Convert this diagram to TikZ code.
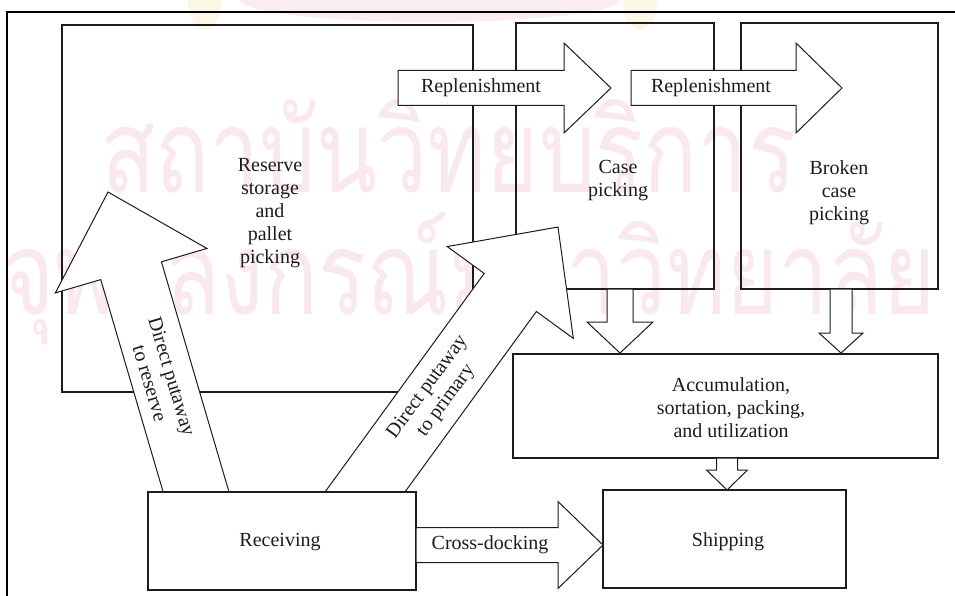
\documentclass[tikz,border=0pt]{standalone}
\usepackage{fontspec}
\setmainfont{Liberation Serif}
\newfontfamily\thaifont[Script=Thai,FakeStretch=0.77]{Loma}
\usetikzlibrary{calc}

\definecolor{ink}{RGB}{28,28,28}
\definecolor{wmpink}{RGB}{249,232,239}
\definecolor{wmband}{RGB}{251,236,240}
\definecolor{wmgold}{RGB}{251,246,230}

\tikzset{
  box/.style={draw=ink, line width=1.2pt, inner sep=0pt, outer sep=0pt},
  whitebox/.style={box, fill=white},
  flowarrow/.style={draw=ink, line width=1pt, fill=white, line join=miter},
  lbl/.style={font=\fontsize{20}{23}\selectfont, align=center, inner sep=0pt, text=ink},
  frameline/.style={draw=black, line width=2.2pt},
  watermark/.style={font=\thaifont\fontsize{116}{116}\selectfont, text=wmpink, inner sep=0pt}
}

% Block arrow from coordinate #1 to tip #2:
% #3 half body width, #4 half head width, #5 head length (all in pt)
\newcommand\blockarrow[5]{%
  \pgfpointdiff{\pgfpointanchor{#1}{center}}{\pgfpointanchor{#2}{center}}%
  \pgfgetlastxy{\bdx}{\bdy}%
  \pgfmathsetmacro\bang{atan2(\bdy,\bdx)}%
  \pgfmathsetmacro\blen{veclen(\bdx,\bdy)}%
  \pgfmathsetmacro\bneck{\blen-#5}%
  \draw[flowarrow, shift={(#1)}, rotate=\bang]
    (0,-#3) -- (\bneck,-#3) -- (\bneck,-#4) -- (\blen,0)
    -- (\bneck,#4) -- (\bneck,#3) -- (0,#3) -- cycle;
}

\begin{document}
\begin{tikzpicture}[x=1pt,y=1pt]
\useasboundingbox (0,0) rectangle (955,-596);

% faint library stamp behind the drawing
\fill[wmgold] (205,-2) ellipse (17pt and 28pt);
\fill[wmgold] (640,-2) ellipse (17pt and 28pt);
\fill[wmband] (430,0) ellipse (190pt and 22pt);
\node[watermark, anchor=base west] (wm1) at (101,-193) {สถาบันวิทยบริการ};
\node[watermark, anchor=base west] (wm2) at (2,-314) {จุฬาลงกรณ์มหาวิทยาลัย};

% storage and picking areas
\node[box, minimum width=411pt, minimum height=367pt] (reserve) at (267.5,-208.5) {};
\node[box, minimum width=198pt, minimum height=266pt] (case) at (615,-156) {};
\node[box, minimum width=197pt, minimum height=266pt] (broken) at (839.5,-156) {};

% replenishment flows
\coordinate (rep1s) at (398,-88);
\coordinate (rep1t) at (611,-88);
\coordinate (rep2s) at (631,-88);
\coordinate (rep2t) at (842,-88);
\blockarrow{rep1s}{rep1t}{17.5}{45}{47}
\blockarrow{rep2s}{rep2t}{17.5}{45}{46}

% putaway flows out of receiving
\coordinate (putRs) at (200.3,-506.4);
\coordinate (putRt) at (108,-192);
\coordinate (putPs) at (348.5,-514.6);
\coordinate (putPt) at (558,-227);
\blockarrow{putRs}{putRt}{31.6}{79}{82}
\blockarrow{putPs}{putPt}{32.3}{78}{81}

% receiving, accumulation, shipping
\node[whitebox, minimum width=268pt, minimum height=98pt] (receiving) at (282,-541) {};
\node[box, minimum width=425pt, minimum height=104pt] (accum) at (725.5,-406) {};
\node[box, minimum width=243pt, minimum height=98pt] (shipping) at (724.5,-539) {};

% picking to accumulation, accumulation to shipping
\coordinate (cdS) at (620,-289);
\coordinate (cdT) at (620,-353);
\coordinate (bdS) at (841,-289);
\coordinate (bdT) at (841,-353);
\coordinate (adS) at (727,-458);
\coordinate (adT) at (727,-490);
\blockarrow{cdS}{cdT}{13}{33}{31}
\blockarrow{bdS}{bdT}{11}{22}{20}
\blockarrow{adS}{adT}{10.5}{20.5}{20}

% cross-docking
\coordinate (xdS) at (416,-545);
\coordinate (xdT) at (603,-545);
\blockarrow{xdS}{xdT}{17.5}{43.5}{45}

% labels
\node[lbl] (reserveText) at (270,-213) {Reserve\\storage\\and\\pallet\\picking};
\node[lbl] (caseText) at (618,-181) {Case\\picking};
\node[lbl] (brokenText) at (839,-193) {Broken\\case\\picking};
\node[lbl] (accumText) at (731,-408) {Accumulation,\\sortation, packing,\\and utilization};
\node[lbl] (shipText) at (728,-542) {Shipping};
\node[lbl] (recvText) at (280,-542) {Receiving};
\node[lbl] (rep1Text) at (481,-88) {Replenishment};
\node[lbl] (rep2Text) at (711,-88) {Replenishment};
\node[lbl] (xdText) at (490,-545) {Cross-docking};
\node[lbl, rotate=-73.3] (putRText) at (161,-380) {Direct putaway\\to reserve};
\node[lbl, rotate=53.8] (putPText) at (437,-394) {Direct putaway\\to primary};

% outer frame
\draw[frameline] (7,-596) -- (7,-12) -- (955,-12);
\end{tikzpicture}
\end{document}
